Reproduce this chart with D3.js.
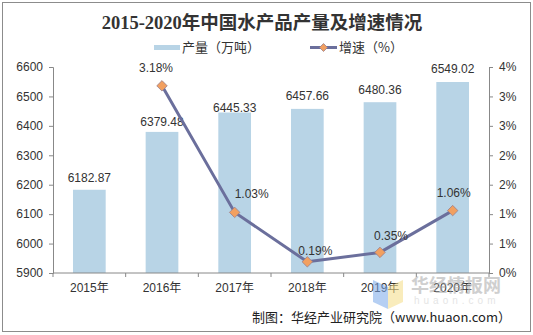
<!DOCTYPE html>
<html>
<head>
<meta charset="utf-8">
<script src="https://cdn.jsdelivr.net/npm/d3@7"></script>
<style>
  html, body { margin: 0; padding: 0; background: #fff; }
  svg { display: block; }
  text { font-family: "Liberation Sans", Arial, "Noto Sans CJK SC", sans-serif; }
</style>
</head>
<body>
<svg id="chart" width="533" height="335"></svg>
<script>
// Output (10k tonnes) and growth rate (%), 2015–2020
const years = ["2015年", "2016年", "2017年", "2018年", "2019年", "2020年"];
const output = [6182.87, 6379.48, 6445.33, 6457.66, 6480.36, 6549.02];
const growth = [null, 3.18, 1.03, 0.19, 0.35, 1.06];
const leftTicks = [5900, 6000, 6100, 6200, 6300, 6400, 6500, 6600];
const rightTicks = [0, 0.5, 1, 1.5, 2, 2.5, 3, 3.5];

const svg = d3.select("#chart");
const W = 533, H = 335;
const plot = { left: 53, right: 489, top: 67, bottom: 273 };

// outer frame
svg.append("rect")
  .attr("x", 2.5).attr("y", 2.5).attr("width", W - 5).attr("height", H - 6)
  .attr("fill", "#fff").attr("stroke", "#8c8c8c").attr("stroke-width", 1);

// title
svg.append("text")
  .attr("x", 262).attr("y", 29)
  .attr("text-anchor", "middle")
  .style("font-family", "'Liberation Serif', 'Noto Sans CJK SC', serif")
  .style("font-size", "18.5px").style("font-weight", "bold")
  .attr("fill", "#333")
  .text("2015-2020年中国水产品产量及增速情况");

// scales
const x = d3.scaleBand().domain(years).range([plot.left, plot.right]).paddingInner(0.55).paddingOuter(0.275);
const xc = d3.scaleBand().domain(years).range([plot.left, plot.right]);
const yL = d3.scaleLinear().domain([5900, 6600]).range([plot.bottom, plot.top]);
const yR = d3.scaleLinear().domain([0, 3.5]).range([plot.bottom, plot.top]);

// bars
svg.append("g").selectAll("rect").data(years).join("rect")
  .attr("x", d => x(d))
  .attr("width", x.bandwidth())
  .attr("y", (d, i) => yL(output[i]))
  .attr("height", (d, i) => plot.bottom - yL(output[i]))
  .attr("fill", "#b8d4e6");

// bar labels (gap above bar top, in px)
const barLabelGap = [8, 6, 1, 9, 8, 9];
svg.append("g").selectAll("text").data(years).join("text")
  .attr("x", d => x(d) + x.bandwidth() / 2)
  .attr("y", (d, i) => yL(output[i]) - barLabelGap[i])
  .attr("text-anchor", "middle")
  .style("font-size", "12px").attr("fill", "#333")
  .text((d, i) => output[i].toFixed(2));

// left axis
const axisL = svg.append("g").attr("transform", `translate(${plot.left},0)`)
  .call(d3.axisLeft(yL).tickValues(leftTicks).tickSize(4).tickPadding(6).tickFormat(d3.format("d")));
// right axis
const axisR = svg.append("g").attr("transform", `translate(${plot.right},0)`)
  .call(d3.axisRight(yR).tickValues(rightTicks).tickSize(4).tickPadding(6)
    .tickFormat(d => Math.round(d + 1e-9) + "%"));
// bottom axis with ticks at category boundaries
const axisB = svg.append("g").attr("transform", `translate(0,${plot.bottom})`)
  .call(d3.axisBottom(xc).tickSize(0).tickPadding(10));
svg.append("g").selectAll("line")
  .data(years.map(d => xc(d)).concat([plot.right]))
  .join("line")
  .attr("x1", d => d).attr("x2", d => d)
  .attr("y1", plot.bottom).attr("y2", plot.bottom + 4)
  .attr("stroke", "#888");

[axisL, axisR, axisB].forEach(g => {
  g.select(".domain").attr("stroke", "#888");
  g.selectAll(".tick line").attr("stroke", "#888");
  g.selectAll(".tick text").attr("fill", "#333")
    .style("font-family", "'Liberation Sans', Arial, 'Noto Sans CJK SC', sans-serif")
    .style("font-size", "12px");
});
axisB.select(".domain").attr("d", `M${plot.left},0H${plot.right}`);

// growth line
const pts = years.map((d, i) => ({ d, v: growth[i] })).filter(p => p.v !== null);
const cx = p => xc(p.d) + xc.bandwidth() / 2;
const line = d3.line().x(cx).y(p => yR(p.v));
svg.append("path").datum(pts)
  .attr("d", line).attr("fill", "none")
  .attr("stroke", "#6b6f9c").attr("stroke-width", 3).attr("stroke-linejoin", "round");

const diamond = d3.symbol().type(d3.symbolDiamond2).size(70);
svg.append("g").selectAll("path").data(pts).join("path")
  .attr("transform", p => `translate(${cx(p)},${yR(p.v)})`)
  .attr("d", diamond)
  .attr("fill", "#f2a060").attr("stroke", "#9a7f8a").attr("stroke-width", 0.8);

// growth labels, offset from each marker
const growthOffset = { "2016年": [-6, -14], "2017年": [17, -14], "2018年": [8, -7], "2019年": [11, -12], "2020年": [1, -14] };
svg.append("g").selectAll("text").data(pts).join("text")
  .attr("x", p => cx(p) + growthOffset[p.d][0])
  .attr("y", p => yR(p.v) + growthOffset[p.d][1])
  .attr("text-anchor", "middle")
  .style("font-size", "12px").attr("fill", "#333")
  .text(p => p.v.toFixed(2) + "%");

// legend
const lg = svg.append("g");
lg.append("rect").attr("x", 154).attr("y", 45).attr("width", 26).attr("height", 5).attr("fill", "#b8d4e6");
lg.append("text").attr("x", 182).attr("y", 52).style("font-size", "13px").attr("fill", "#333")
  .style("font-family", "'Noto Sans CJK SC', sans-serif").text("产量（万吨）");
lg.append("line").attr("x1", 310).attr("x2", 337).attr("y1", 47.5).attr("y2", 47.5)
  .attr("stroke", "#6b6f9c").attr("stroke-width", 3);
lg.append("path").attr("transform", "translate(323.5,47.5)").attr("d", d3.symbol().type(d3.symbolDiamond2).size(40))
  .attr("fill", "#f2a060").attr("stroke", "#9a7f8a").attr("stroke-width", 0.8);
lg.append("text").attr("x", 339).attr("y", 52).style("font-size", "13px").attr("fill", "#333")
  .style("font-family", "'Noto Sans CJK SC', sans-serif").text("增速（%）");

// watermark
const wm = svg.append("g").attr("opacity", 0.55);
wm.append("path").attr("d", "M373,280 L388,287 L388,309 L373,302 Z").attr("fill", "#7aa9ea");
wm.append("path").attr("d", "M388,287 L403,280 L403,302 L388,309 Z").attr("fill", "#f5de86");
wm.append("text").attr("x", 411).attr("y", 292).style("font-size", "18px").style("font-weight", "bold")
  .style("font-family", "'Noto Sans CJK SC', sans-serif").attr("fill", "#a8a8a8").text("华经情报网");
wm.append("text").attr("x", 414).attr("y", 304).style("font-size", "10px").attr("letter-spacing", "4px")
  .attr("fill", "#cfcfcf").text("huaon.com");

// source
svg.append("text").attr("x", 511).attr("y", 322).attr("text-anchor", "end")
  .style("font-size", "13px").attr("fill", "#222")
  .style("font-family", "'Noto Sans CJK SC', 'Liberation Sans', sans-serif")
  .text("制图：华经产业研究院（www.huaon.com）");
</script>
</body>
</html>
